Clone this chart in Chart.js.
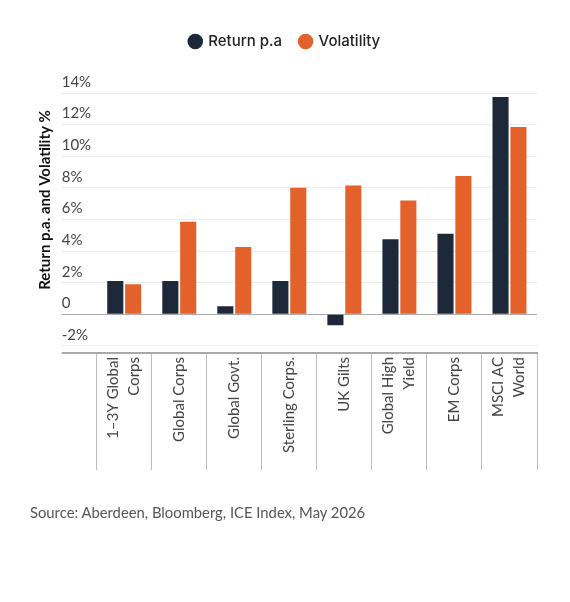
<!DOCTYPE html>
<html>
<head>
<meta charset="utf-8">
<script src="https://cdn.jsdelivr.net/npm/chart.js@4"></script>
<style>
    body { margin: 0; background: #fff; }
    #wrap { position: relative; width: 570px; height: 602px; }
    #source { position: absolute; left: 30px; top: 503px; font: 14.8px Lato, sans-serif; color: #555; }
</style>
</head>
<body>
<div id="wrap">
    <canvas id="chart" width="570" height="602"></canvas>
    <div id="source">Source: Aberdeen, Bloomberg, ICE Index, May 2026</div>
</div>
<script>
// chart data
const categories = [
    ['1–3Y Global', 'Corps'],
    'Global Corps',
    'Global Govt.',
    'Sterling Corps.',
    'UK Gilts',
    ['Global High', 'Yield'],
    'EM Corps',
    ['MSCI AC', 'World']
];
const returnPa = [2.1, 2.1, 0.5, 2.1, -0.7, 4.75, 5.1, 13.75];
const volatility = [1.9, 5.85, 4.25, 8.0, 8.15, 7.2, 8.75, 11.85];
const yTicks = [-2, 0, 2, 4, 6, 8, 10, 12, 14];
const yAxisTitle = 'Return p.a. and Volatility %';
const yMin = -2.45;

// rotated y axis title, drawn left of the tick labels
const yTitlePlugin = {
    id: 'yTitle',
    afterDraw: function (chart) {
        const ctx = chart.ctx;
        ctx.save();
        ctx.translate(45, 200);
        ctx.rotate(-Math.PI / 2);
        ctx.font = 'bold 15px Lato';
        ctx.fillStyle = '#111';
        ctx.textAlign = 'center';
        ctx.textBaseline = 'middle';
        ctx.fillText(yAxisTitle, 0, 0);
        ctx.restore();
    }
};

// more room under the legend
const legendGapPlugin = {
    id: 'legendGap',
    beforeInit: function (chart) {
        const fit = chart.legend.fit;
        chart.legend.fit = function () {
            fit.bind(chart.legend)();
            this.height += 34;
        };
    }
};

// center two-line x labels on their category
const xLabelCenterPlugin = {
    id: 'xLabelCenter',
    beforeDraw: function (chart) {
        const xs = chart.scales.x;
        xs.getLabelItems(chart.chartArea).forEach(function (item) {
            if (Array.isArray(item.label) && item.label.length > 1) {
                item.options.translation[0] -= 11;
            }
        });
    }
};

new Chart(document.getElementById('chart'), {
    type: 'bar',
    data: {
        labels: categories,
        datasets: [{
            label: 'Return p.a',
            data: returnPa,
            backgroundColor: '#1d2939'
        }, {
            label: 'Volatility',
            data: volatility,
            backgroundColor: '#e3622c'
        }]
    },
    options: {
        responsive: false,
        animation: false,
        devicePixelRatio: 1,
        categoryPercentage: 0.65,
        barPercentage: 0.9,
        layout: { padding: { top: 16, left: 33, right: 33, bottom: 132 } },
        plugins: {
            tooltip: { enabled: false },
            legend: {
                labels: {
                    usePointStyle: true,
                    pointStyle: 'circle',
                    boxWidth: 11,
                    boxHeight: 11,
                    padding: 18,
                    color: '#222',
                    font: { family: 'Inter', size: 15, weight: '500' }
                }
            }
        },
        scales: {
            x: {
                afterFit: function (scale) { scale.height = 117; },
                border: { display: true, color: '#a8a8a8', width: 2 },
                grid: { drawOnChartArea: false, tickLength: 117, color: '#bbb', offset: true },
                ticks: {
                    autoSkip: false,
                    minRotation: 90,
                    maxRotation: 90,
                    padding: -113,
                    color: '#444',
                    font: { family: 'Lato', size: 15, lineHeight: 1.4 }
                }
            },
            y: {
                min: yMin,
                max: 14,
                afterFit: function (scale) { scale.width = 63.7; },
                afterBuildTicks: function (scale) {
                    scale.ticks = [{ value: yMin }].concat(yTicks.map(function (v) { return { value: v }; }));
                },
                border: { display: false },
                grid: {
                    tickLength: 35,
                    color: function (c) {
                        if (c.tick && (c.tick.value === 0 || c.tick.value === yMin)) return '#a8a8a8';
                        return '#ebebeb';
                    },
                    lineWidth: function (c) {
                        return c.tick && c.tick.value === yMin ? 2 : 1;
                    }
                },
                ticks: {
                    mirror: true,
                    padding: -35,
                    labelOffset: -11,
                    color: '#444',
                    font: { family: 'Lato', size: 15 },
                    callback: function (v) {
                        if (yTicks.indexOf(v) < 0) return '';
                        return v === 0 ? '0' : v + '%';
                    }
                }
            }
        }
    },
    plugins: [yTitlePlugin, legendGapPlugin, xLabelCenterPlugin]
});
</script>
</body>
</html>
